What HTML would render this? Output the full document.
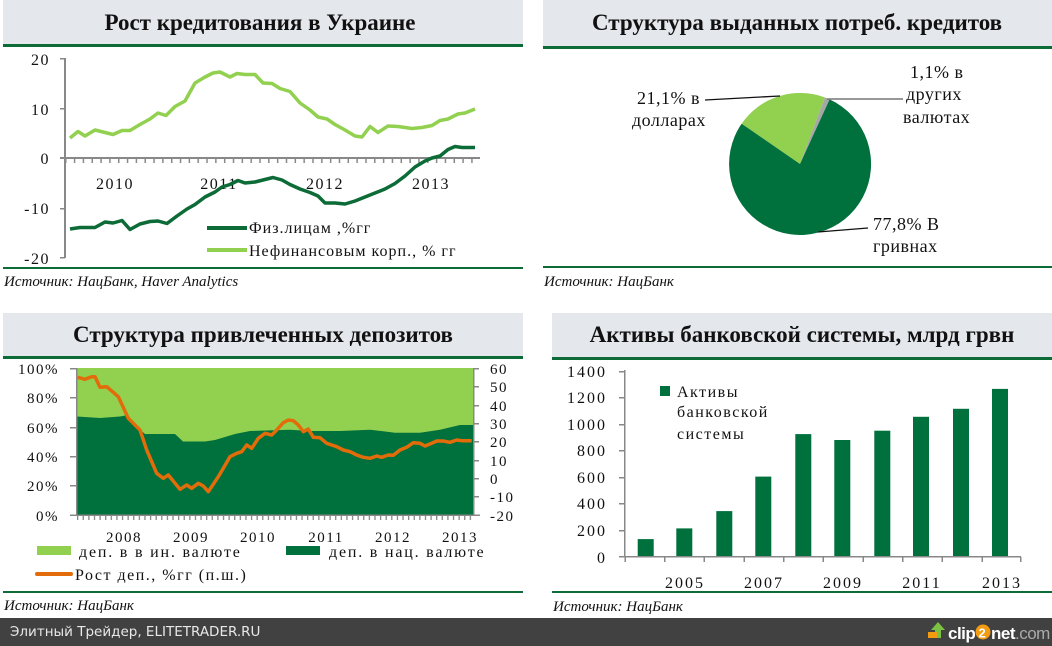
<!DOCTYPE html>
<html><head><meta charset="utf-8"><style>
html,body{margin:0;padding:0;background:#fff;}
svg{display:block;}
text{font-family:"Liberation Serif","DejaVu Serif",serif;fill:#111;}
.t{font-size:23px;font-weight:bold;text-anchor:middle;}
.s{font-size:15px;font-style:italic;}
.k{font-size:16px;}
.l{font-size:16px;letter-spacing:1px;}
.w{letter-spacing:1.5px;}
</style></head><body>
<svg width="1052" height="646" viewBox="0 0 1052 646" xmlns="http://www.w3.org/2000/svg">
<defs>
<pattern id="mt1" x="65" y="0" width="8.83" height="10" patternUnits="userSpaceOnUse"><rect x="0" y="0" width="1.5" height="10" fill="#888"/></pattern>
<pattern id="mt3" x="77" y="0" width="5.61" height="10" patternUnits="userSpaceOnUse"><rect x="0" y="0" width="1.3" height="10" fill="#888"/></pattern>
</defs>
<rect width="1052" height="646" fill="#fff"/>
<rect x="3" y="0" width="520" height="44" fill="#e4e7ec"/><rect x="3" y="44" width="520" height="3" fill="#0c6b36"/>
<text class="t" x="260" y="30">Рост кредитования в Украине</text>
<rect x="543" y="0" width="509" height="46" fill="#e4e7ec"/><rect x="543" y="46" width="509" height="3" fill="#0c6b36"/>
<text class="t" x="797" y="30">Структура выданных потреб. кредитов</text>
<rect x="3" y="313" width="520" height="43" fill="#e4e7ec"/><rect x="3" y="356" width="520" height="3" fill="#0c6b36"/>
<text class="t" x="263" y="342">Структура привлеченных депозитов</text>
<rect x="552" y="313" width="500" height="44" fill="#e4e7ec"/><rect x="552" y="357" width="500" height="3" fill="#0c6b36"/>
<text class="t" x="802" y="342">Активы банковской системы, млрд грвн</text>

<rect x="3" y="267" width="520" height="2" fill="#0c6b36"/><text class="s" x="4" y="286">Источник: НацБанк, Haver Analytics</text>
<rect x="543" y="266" width="509" height="2" fill="#0c6b36"/><text class="s" x="544" y="286">Источник: НацБанк</text>
<rect x="3" y="591" width="520" height="2" fill="#0c6b36"/><text class="s" x="4" y="610">Источник: НацБанк</text>
<rect x="552" y="591" width="500" height="2" fill="#0c6b36"/><text class="s" x="553" y="611">Источник: НацБанк</text>

<!-- chart 1 -->
<rect x="64" y="58" width="2" height="200" fill="#888"/>
<g fill="#888"><rect x="60" y="58" width="5" height="1.5"/><rect x="60" y="108" width="5" height="1.5"/><rect x="60" y="208" width="5" height="1.5"/><rect x="60" y="257" width="5" height="1.5"/></g>
<rect x="60" y="157" width="420" height="2" fill="#888"/>
<rect x="65" y="158" width="415" height="5" fill="url(#mt1)"/>
<g class="k w" text-anchor="end"><text x="50" y="65">20</text><text x="50" y="115">10</text><text x="50" y="164">0</text><text x="50" y="214">-10</text><text x="50" y="264">-20</text></g>
<g class="k w" text-anchor="middle"><text x="115" y="189">2010</text><text x="219" y="189">2011</text><text x="325" y="189">2012</text><text x="431" y="189">2013</text></g>
<polyline fill="none" stroke="#92d050" stroke-width="3.5" stroke-linejoin="round" points="70,138 78,131.5 85,136 95,130 103,132 113,134.5 122,130.5 130,130.5 140,124.5 150,119 158,113 166,115.5 175,106.5 185,101 195,83 205,77 213,73 220,72 230,77 237,73.5 245,74.5 255,74.5 263,83 272,83.5 280,88.5 290,91.5 300,103 310,110 318,117 327,119 335,124.5 345,130 355,136 362,137 370,126.5 378,132.5 388,126 398,126.5 412,128.5 422,127.5 432,125.5 440,120.5 448,119 458,114 465,113 475,109"/>
<polyline fill="none" stroke="#0c6b36" stroke-width="3.5" stroke-linejoin="round" points="70,229 80,227.5 95,227.5 105,222 113,223 122,220.5 130,229.5 140,224 150,221.5 158,221 167,223.5 177,216 187,209 195,204.5 205,197 215,192 222,187 230,184.5 238,180.5 245,183 255,182 265,179.5 273,177.5 282,180 290,184.5 300,189 310,192.5 318,196 325,203 335,203 345,204 355,201 365,197 375,193 385,189 395,183.5 405,176 415,167 425,161 432,158 440,156 448,149.5 455,146.5 462,147.5 475,147.5"/>
<rect x="207" y="226" width="40" height="4" fill="#0c6b36"/><text class="l" x="249" y="233">Физ.лицам ,%гг</text>
<rect x="207" y="248" width="40" height="4" fill="#92d050"/><text class="l" x="249" y="256">Нефинансовым корп., % гг</text>

<!-- chart 2 pie -->
<path d="M800,164 L741.6,123.7 A71,71 0 0 1 825,97.5 Z" fill="#92d050"/>
<path d="M800,164 L825,97.5 A71,71 0 0 1 829.6,99.4 Z" fill="#a6a6a6"/>
<path d="M800,164 L829.6,99.4 A71,71 0 1 1 741.6,123.7 Z" fill="#00703c"/>
<g stroke="#111" stroke-width="1.3" fill="none"><polyline points="705,100 780,96"/><polyline points="818,232 868,228"/></g>
<polyline points="827,99 903,99" stroke="#777" stroke-width="1.5" fill="none"/>
<g class="k" style="font-size:18px;letter-spacing:0.5px"><text x="637" y="104">21,1% в</text><text x="632" y="126">долларах</text>
<text x="910" y="78">1,1% в</text><text x="906" y="100">других</text><text x="903" y="123">валютах</text>
<text x="873" y="230">77,8% В</text><text x="873" y="252">гривнах</text></g>

<!-- chart 3 -->
<rect x="77" y="368" width="396" height="147" fill="#92d050"/>
<polygon fill="#00703c" points="77,416.5 100,418 120,416.5 128,415 132,421 137,427 145,434 175,434 183,441.5 205,441.5 215,440 235,434 250,431 290,429.7 310,431 340,431 370,429.7 395,432.7 420,432.7 440,429.7 460,425 473,425 473,515 77,515"/>
<polyline fill="none" stroke="#e36c0a" stroke-width="3.5" stroke-linejoin="round" points="77.7,377.3 85,379.3 91.7,376.7 95,376.7 100,387.3 106.7,386.7 118.3,396.7 128.3,418.3 140,430 146.7,450 156.7,473.3 163.3,478.3 168.3,475 180,489.3 186.7,485 191.7,488.3 198.3,483.3 203.3,486 208.3,491.7 218.3,476.7 230,456.7 236.7,453.3 241.7,451.7 246.7,445 251.7,448.3 258.3,438.3 265,433.3 271.7,435 276.7,430 283.3,422.7 288.3,420 293.3,420.7 298.3,425 303.3,431.7 308.3,429 313.3,437.3 320,437.7 326.7,443.3 331.7,445 336.7,446.7 343.3,450 350,451.7 356.7,455 363.3,457.3 370,458.3 376.7,456 381.7,457.3 388.3,455 393.3,455.3 400,450 406.7,447.3 413.3,442.7 420,443.3 425,446 431.7,443.3 436.7,441 443.3,441 450,442.3 456.7,440 461.7,440.7 471.7,440.7"/>
<rect x="76" y="368" width="1.5" height="148" fill="#888"/><rect x="473" y="368" width="1.5" height="148" fill="#888"/>
<rect x="70" y="514.5" width="410" height="1.5" fill="#888"/>
<rect x="77" y="515" width="396" height="5" fill="url(#mt3)"/>
<g fill="#888"><rect x="70" y="368" width="6" height="1.5"/><rect x="70" y="397" width="6" height="1.5"/><rect x="70" y="427" width="6" height="1.5"/><rect x="70" y="456" width="6" height="1.5"/><rect x="70" y="485" width="6" height="1.5"/>
<rect x="474" y="368" width="5" height="1.5"/><rect x="474" y="386" width="5" height="1.5"/><rect x="474" y="405" width="5" height="1.5"/><rect x="474" y="423" width="5" height="1.5"/><rect x="474" y="441" width="5" height="1.5"/><rect x="474" y="460" width="5" height="1.5"/><rect x="474" y="478" width="5" height="1.5"/><rect x="474" y="496" width="5" height="1.5"/></g>
<g class="k w" text-anchor="end" style="font-size:15px"><text x="59" y="374">100%</text><text x="59" y="403">80%</text><text x="59" y="433">60%</text><text x="59" y="462">40%</text><text x="59" y="491">20%</text><text x="59" y="521">0%</text></g>
<g class="w" style="font-size:15px"><text x="490" y="374">60</text><text x="490" y="392">50</text><text x="490" y="411">40</text><text x="490" y="429">30</text><text x="490" y="447">20</text><text x="490" y="466">10</text><text x="490" y="484">0</text><text x="490" y="502">-10</text><text x="490" y="521">-20</text></g>
<g class="k w" text-anchor="middle" style="font-size:15px"><text x="124" y="542">2008</text><text x="191" y="542">2009</text><text x="258" y="542">2010</text><text x="326" y="542">2011</text><text x="393" y="542">2012</text><text x="460" y="542">2013</text></g>
<rect x="37" y="546" width="34" height="9" fill="#92d050"/><text class="l" x="79" y="557" style="letter-spacing:1.8px">деп. в в ин. валюте</text>
<rect x="286" y="546" width="34" height="9" fill="#00703c"/><text class="l" x="329" y="557" style="letter-spacing:1.8px">деп. в нац. валюте</text>
<rect x="35" y="572" width="38" height="4" rx="2" fill="#e36c0a"/><text class="l" x="75" y="580" style="letter-spacing:1.5px">Рост деп., %гг (п.ш.)</text>

<!-- chart 4 -->
<g fill="#00703c">
<rect x="637.7" y="539.1" width="16" height="17.9"/><rect x="676.3" y="528.4" width="16" height="28.6"/><rect x="716.3" y="511.1" width="16" height="45.9"/><rect x="755.3" y="476.6" width="16" height="80.4"/><rect x="795.3" y="434.1" width="16" height="122.9"/><rect x="834.3" y="440" width="16" height="117"/><rect x="874.3" y="430.7" width="16" height="126.3"/><rect x="913" y="416.8" width="16" height="140.2"/><rect x="953" y="408.8" width="16" height="148.2"/><rect x="992" y="388.9" width="16" height="168.1"/></g>
<rect x="624" y="370" width="1.5" height="187" fill="#888"/>
<rect x="619" y="556" width="402" height="1.5" fill="#888"/>
<g fill="#888"><rect x="619" y="371" width="5" height="1.5"/><rect x="619" y="397" width="5" height="1.5"/><rect x="619" y="424" width="5" height="1.5"/><rect x="619" y="450" width="5" height="1.5"/><rect x="619" y="477" width="5" height="1.5"/><rect x="619" y="503" width="5" height="1.5"/><rect x="619" y="530" width="5" height="1.5"/>
<rect x="624.5" y="557" width="1.5" height="5"/><rect x="664" y="557" width="1.5" height="5"/><rect x="703.5" y="557" width="1.5" height="5"/><rect x="743.5" y="557" width="1.5" height="5"/><rect x="783" y="557" width="1.5" height="5"/><rect x="822.5" y="557" width="1.5" height="5"/><rect x="862.5" y="557" width="1.5" height="5"/><rect x="902" y="557" width="1.5" height="5"/><rect x="941.5" y="557" width="1.5" height="5"/><rect x="981.5" y="557" width="1.5" height="5"/><rect x="1020" y="557" width="1.5" height="5"/></g>
<g class="k" style="font-size:16px;letter-spacing:2px"><text x="567" y="377">1400</text><text x="567" y="403">1200</text><text x="567" y="430">1000</text><text x="577" y="456">800</text><text x="577" y="483">600</text><text x="577" y="509">400</text><text x="577" y="536">200</text><text x="597" y="563">0</text></g>
<g class="k" text-anchor="middle" style="font-size:16px;letter-spacing:2px"><text x="685" y="588">2005</text><text x="764" y="588">2007</text><text x="843" y="588">2009</text><text x="922" y="588">2011</text><text x="1002" y="588">2013</text></g>
<rect x="660" y="386" width="10" height="10" fill="#00703c"/>
<g class="l" style="letter-spacing:1.5px"><text x="677" y="397">Активы</text><text x="677" y="417">банковской</text><text x="677" y="439">системы</text></g>

<!-- footer -->
<rect x="0" y="618" width="1052" height="28" fill="#414141"/>
<text x="10" y="636" style="font-family:'DejaVu Sans','Liberation Sans',sans-serif;font-size:13.5px;fill:#e8e8e8">Элитный Трейдер, ELITETRADER.RU</text>
<polygon points="938,622 931,630 935,630 935,638 941,638 941,630 945,630" fill="#7cc242"/>
<rect x="928" y="632" width="9" height="6" fill="#f39c12"/>
<text x="948" y="639" style="font-family:'Liberation Sans',sans-serif;font-size:17px;font-weight:bold;fill:#fff;letter-spacing:-0.5px">clip</text>
<circle cx="983" cy="632" r="7.5" fill="#f39c12"/><text x="978.5" y="637.5" style="font-family:'Liberation Sans',sans-serif;font-size:13px;font-weight:bold;fill:#fff">2</text>
<text x="991" y="639" style="font-family:'Liberation Sans',sans-serif;font-size:17px;font-weight:bold;fill:#fff;letter-spacing:-0.5px">net<tspan style="fill:#aaa;font-weight:normal">.com</tspan></text>
</svg>
</body></html>
